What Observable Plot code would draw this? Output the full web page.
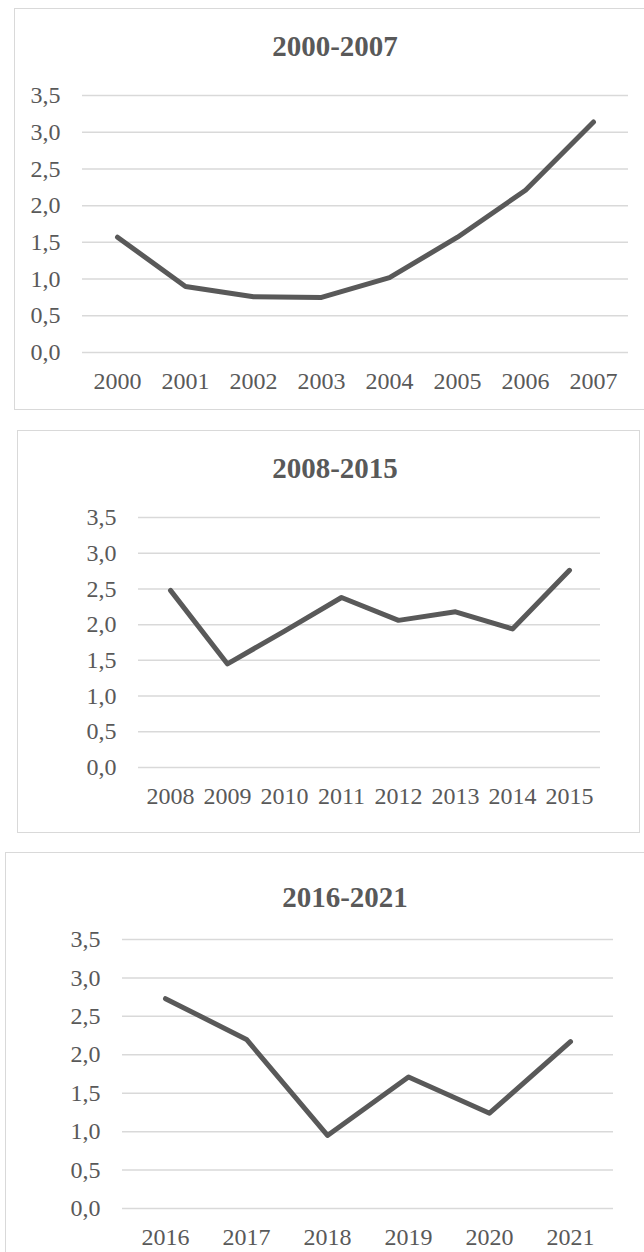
<!DOCTYPE html>
<html>
<head>
<meta charset="utf-8">
<script src="https://cdn.jsdelivr.net/npm/d3@7"></script>
<script src="https://cdn.jsdelivr.net/npm/@observablehq/plot@0.6"></script>
<style>
  html, body { margin: 0; padding: 0; background: #fff; }
  body { width: 644px; height: 1252px; position: relative; overflow: hidden; font-family: "Liberation Serif", "Times New Roman", serif; }
  .panel { position: absolute; border: 1.5px solid #d9d9d9; box-sizing: border-box; background: #fff; }
  .title { position: absolute; transform: translate(-50%, -50%); font-weight: bold; font-size: 29px; color: #595959; white-space: nowrap; font-family: "Liberation Serif", serif; }
  svg text { font-family: "Liberation Serif", serif; }
</style>
</head>
<body>
<script>
// ---- data ----
const years1 = ["2000","2001","2002","2003","2004","2005","2006","2007"];
const values1 = [1.57, 0.90, 0.76, 0.75, 1.02, 1.57, 2.21, 3.14];
const years2 = ["2008","2009","2010","2011","2012","2013","2014","2015"];
const values2 = [2.48, 1.45, 1.91, 2.38, 2.06, 2.18, 1.94, 2.76];
const years3 = ["2016","2017","2018","2019","2020","2021"];
const values3 = [2.73, 2.20, 0.95, 1.71, 1.24, 2.17];
const titles = ["2000-2007", "2008-2015", "2016-2021"];
const yTicks = [0, 0.5, 1, 1.5, 2, 2.5, 3, 3.5];

const panels = [
  {years: years1, values: values1, title: titles[0],
   box: {left: 14, top: 8, width: 640, height: 402},
   titlePos: {x: 335, y: 46},
   svgTop: 80, plotH: 257, mL: 82, mR: 16},
  {years: years2, values: values2, title: titles[1],
   box: {left: 17, top: 430, width: 623, height: 403},
   titlePos: {x: 335, y: 468},
   svgTop: 502, plotH: 250, mL: 138, mR: 44},
  {years: years3, values: values3, title: titles[2],
   box: {left: 5, top: 852, width: 660, height: 430},
   titlePos: {x: 345, y: 897},
   svgTop: 924, plotH: 269, mL: 122, mR: 31}
];

const fmt = d => d3.format(".1f")(d).replace(".", ",");

for (const p of panels) {
  const box = document.createElement("div");
  box.className = "panel";
  Object.assign(box.style, {left: p.box.left + "px", top: p.box.top + "px", width: p.box.width + "px", height: p.box.height + "px"});
  document.body.appendChild(box);

  const t = document.createElement("div");
  t.className = "title";
  t.textContent = p.title;
  t.style.left = p.titlePos.x + "px";
  t.style.top = p.titlePos.y + "px";
  document.body.appendChild(t);

  const data = p.years.map((y, i) => ({year: y, value: p.values[i]}));
  const mT = 15, mB = 45;
  const chart = Plot.plot({
    width: 644,
    height: mT + p.plotH + mB,
    marginLeft: p.mL,
    marginRight: p.mR,
    marginTop: mT,
    marginBottom: mB,
    style: {fontFamily: "Liberation Serif, serif", fontSize: "24px", color: "#595959", background: "transparent", overflow: "visible"},
    x: {type: "point", domain: p.years, padding: 0.5, label: null},
    y: {domain: [0, 3.5], label: null},
    marks: [
      Plot.ruleY(yTicks, {stroke: "#d9d9d9", strokeWidth: 1.5}),
      Plot.axisY(yTicks, {tickSize: 0, tickPadding: 22, tickFormat: fmt, fill: "#595959", label: null, fontSize: 24}),
      Plot.axisX({tickSize: 0, tickPadding: 19, fill: "#595959", label: null, fontSize: 24}),
      Plot.line(data, {x: "year", y: "value", stroke: "#595959", strokeWidth: 5, strokeLinecap: "round", strokeLinejoin: "round"})
    ]
  });
  chart.style.position = "absolute";
  chart.style.top = p.svgTop + "px";
  chart.style.left = "0px";
  document.body.appendChild(chart);
}
</script>
</body>
</html>
